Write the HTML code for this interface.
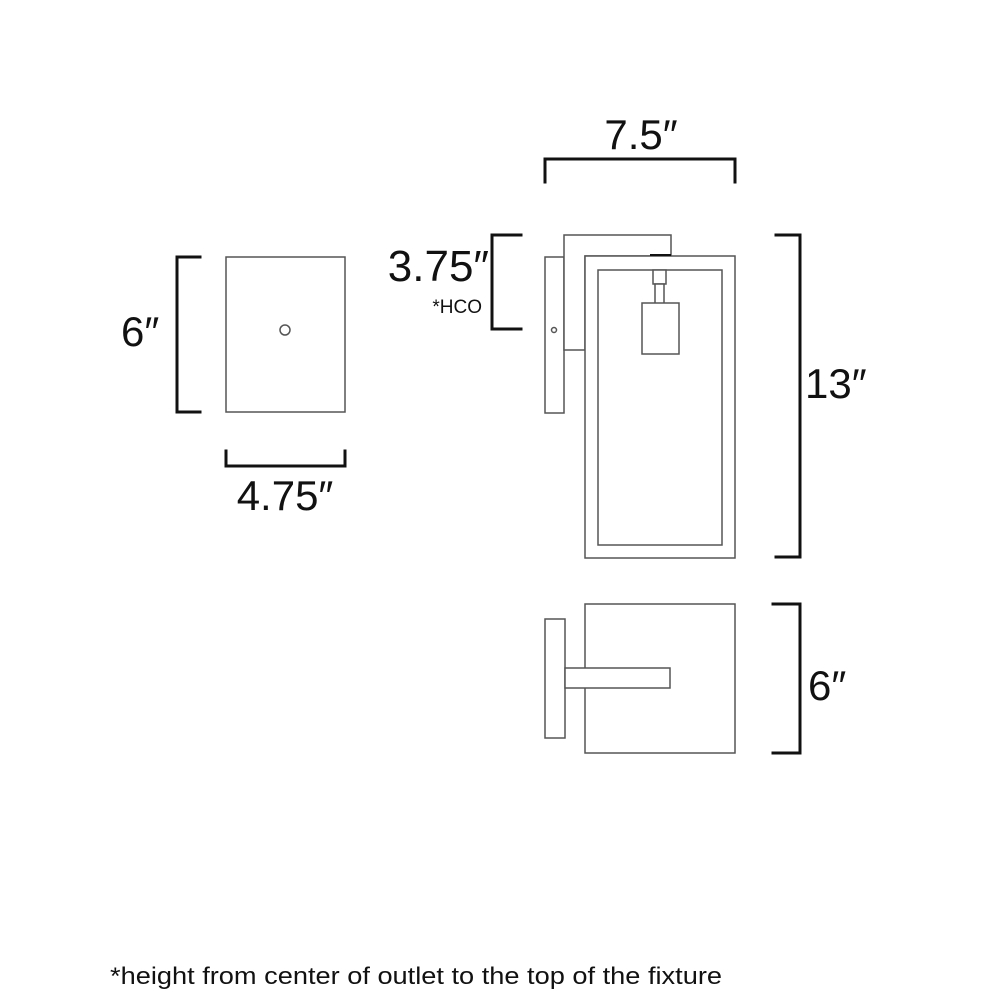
<!DOCTYPE html>
<html><head><meta charset="utf-8"><style>
html,body{margin:0;padding:0;background:#fff;}
svg{display:block;}
text{font-family:"Liberation Sans",sans-serif;fill:#111;}
</style></head><body>
<svg width="1000" height="1000" viewBox="0 0 1000 1000" xmlns="http://www.w3.org/2000/svg">
<g fill="none" stroke="#111" stroke-width="3" stroke-linecap="square">
<polyline points="200,257 177,257 177,412 200,412"/>
<polyline points="226,451 226,466 345,466 345,451"/>
<polyline points="545,182 545,159 735,159 735,182"/>
<polyline points="521,235 492,235 492,329 521,329"/>
<polyline points="776,235 800,235 800,557 776,557"/>
<polyline points="773,604 800,604 800,753 773,753"/>
</g>
<g fill="#fff" stroke="#555" stroke-width="1.5">
<rect x="226" y="257" width="119" height="155"/>
<circle cx="285" cy="330" r="5"/>
<rect x="545" y="257" width="19" height="156"/>
<path d="M564,235 H671 V256 H585 V350 H564 Z"/>
<rect x="585" y="256" width="150" height="302"/>
<rect x="598" y="270" width="124" height="275"/>
<rect x="653" y="270" width="13" height="14"/>
<rect x="655" y="284" width="9" height="20"/>
<rect x="642" y="303" width="37" height="51"/>
<circle cx="554" cy="330" r="2.5"/>
<rect x="585" y="604" width="150" height="149"/>
<rect x="545" y="619" width="20" height="119"/>
<rect x="565" y="668" width="105" height="20"/>
</g>
<line x1="650" y1="255" x2="671" y2="255" stroke="#111" stroke-width="2"/>
<text x="641" y="149" font-size="42" text-anchor="middle">7.5″</text>
<text x="489" y="281" font-size="44" text-anchor="end">3.75″</text>
<text x="482" y="313" font-size="19" text-anchor="end">*HCO</text>
<text x="121" y="346" font-size="42">6″</text>
<text x="285" y="510" font-size="42" text-anchor="middle">4.75″</text>
<text x="805" y="398" font-size="42">13″</text>
<text x="808" y="700" font-size="42">6″</text>
<text x="110" y="984" font-size="24" textLength="612" lengthAdjust="spacingAndGlyphs">*height from center of outlet to the top of the fixture</text>
</svg>
</body></html>
